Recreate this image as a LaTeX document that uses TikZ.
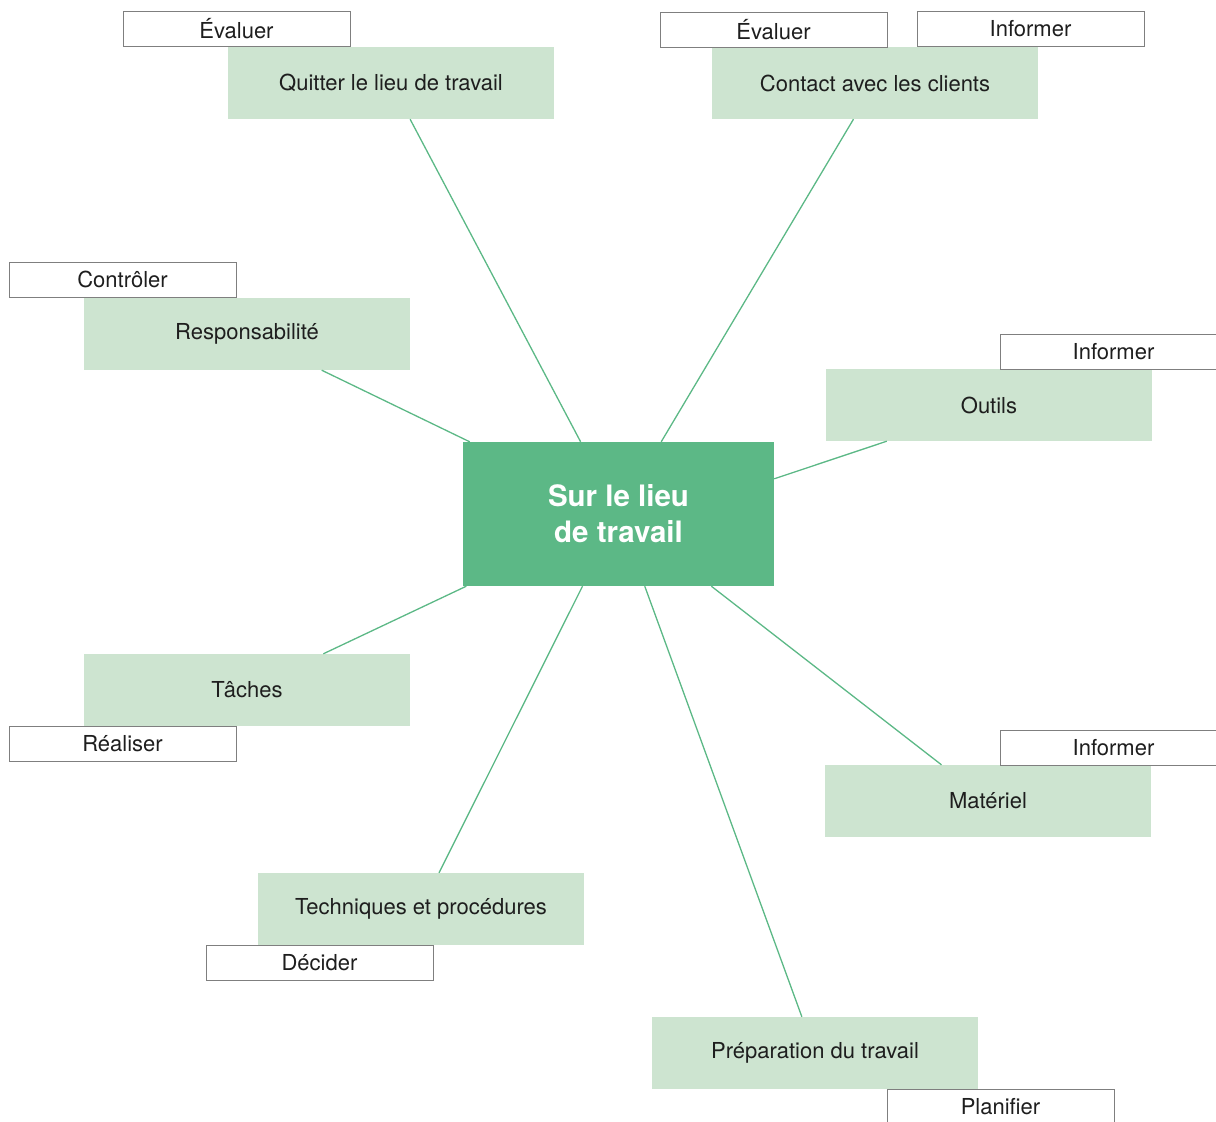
\documentclass[tikz,border=0pt]{standalone}
\usepackage{fontspec}
\setmainfont{TeX Gyre Heros}
\usetikzlibrary{calc}
\definecolor{hub}{HTML}{5CB886}
\definecolor{leaf}{HTML}{CDE4D0}
\definecolor{edge}{HTML}{5CB886}
\definecolor{tagline}{HTML}{7F7F7F}
\definecolor{ink}{HTML}{1E1E1E}
\begin{document}
\begin{tikzpicture}[x=1pt,y=-1pt,
  hubbox/.style={fill=hub,draw=none,minimum width=311pt,minimum height=144pt,inner sep=0pt,
    text=white,font=\fontsize{29.5}{36}\selectfont\bfseries,align=center},
  leafbox/.style={fill=leaf,draw=none,minimum width=326pt,minimum height=72pt,inner sep=0pt,
    text=ink,font=\fontsize{22}{26}\selectfont},
  tagbox/.style={fill=white,draw=tagline,line width=1pt,minimum width=227pt,minimum height=35pt,inner sep=0pt,
    text=ink,font=\fontsize{22}{26}\selectfont},
  link/.style={draw=edge,line width=1.3pt}]
\useasboundingbox (0,0) rectangle (1216,1122);
\clip (0,0) rectangle (1216,1122);

\node[hubbox] (hub) at (618.5,514) {Sur le lieu\\de travail};

\node[leafbox] (quit) at (391,83) {Quitter le lieu de travail};
\node[leafbox] (cont) at (875,83) {Contact avec les clients};
\node[leafbox] (resp) at (247,334) {Responsabilité};
\node[leafbox] (outi) at (989,405) {Outils};
\node[leafbox] (tach) at (247,690) {Tâches};
\node[leafbox] (mate) at (988,801) {Matériel};
\node[leafbox] (tech) at (421,909) {Techniques et procédures};
\node[leafbox] (prep) at (815,1053) {Préparation du travail};

\node[tagbox] (t1) at (236.5,28.5) {Évaluer};
\node[tagbox] (t2) at (773.5,29.5) {Évaluer};
\node[tagbox] (t3) at (1030.5,28.5) {Informer};
\node[tagbox] (t4) at (122.5,279.5) {Contrôler};
\node[tagbox] (t5) at (1113.5,351.5) {Informer};
\node[tagbox] (t6) at (122.5,743.5) {Réaliser};
\node[tagbox] (t7) at (1113.5,747.5) {Informer};
\node[tagbox] (t8) at (319.5,962.5) {Décider};
\node[tagbox] (t9) at (1000.5,1106.5) {Planifier};

\coordinate (hubE) at ($(hub.north east)+(0,37)$);
\coordinate (outiS) at ($(outi.south west)+(61,0)$);

\draw[link] (hub) -- (quit);
\draw[link] (hub) -- (cont);
\draw[link] (hub) -- (resp);
\draw[link] (hubE) -- (outiS);
\draw[link] (hub) -- (tach);
\draw[link] (hub) -- (mate);
\draw[link] (hub) -- (tech);
\draw[link] (hub) -- (prep);
\end{tikzpicture}
\end{document}
